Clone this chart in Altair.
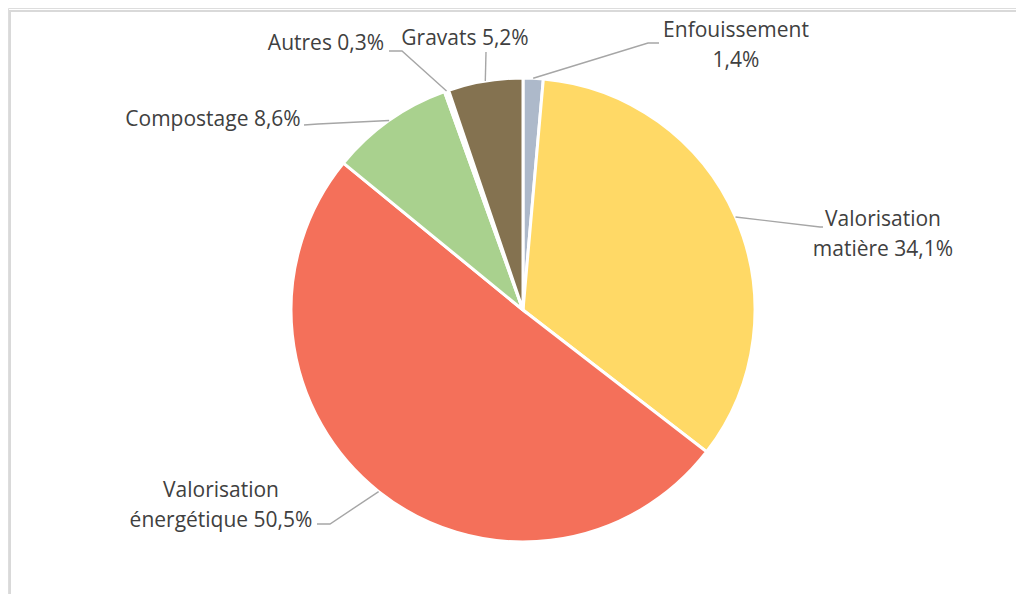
import altair as alt
import pandas as pd
import numpy as np

# ---- data ----
categories = ["Enfouissement", "Valorisation matière", "Valorisation énergétique",
              "Compostage", "Autres", "Gravats"]
values = [1.4, 34.1, 50.5, 8.6, 0.3, 5.2]
labels = ["Enfouissement\n1,4%", "Valorisation\nmatière 34,1%",
          "Valorisation\nénergétique 50,5%", "Compostage 8,6%",
          "Autres 0,3%", "Gravats 5,2%"]
colors = ["#ADB9CA", "#FFD966", "#F4705A", "#A9D18E", "#FFFFFF", "#847250"]

# ---- layout (page px; converted to view px by subtracting the 8px margin) ----
M = 8
CX, CY, R = 523 - M, 310 - M, 232
label_xy = {
    "Enfouissement": (736, 37),
    "Valorisation matière": (883, 226),
    "Valorisation énergétique": (221, 497),
    "Compostage": (213, 126),
    "Autres": (326, 50),
    "Gravats": (465, 45),
}
leader_tail = {
    "Enfouissement": [(648, 43), (659, 43)],
    "Valorisation matière": [(820, 227), (823, 227)],
    "Valorisation énergétique": [(330, 524), (317, 524)],
    "Compostage": [(318, 124), (304, 125)],
    "Autres": [(402, 51), (389, 51)],
    "Gravats": [(486, 52)],
}

slices = pd.DataFrame({"cat": categories, "value": values,
                       "idx": list(range(len(categories)))})

vals = np.array(values, dtype=float)
total = vals.sum()
mid = (np.cumsum(vals) - vals / 2) / total * 2 * np.pi
rows = []
for i, c in enumerate(categories):
    sx = CX + R * np.sin(mid[i])
    sy = CY - R * np.cos(mid[i])
    pts = [(sx, sy)] + [(px - M, py - M) for px, py in leader_tail[c]]
    for j, (px, py) in enumerate(pts):
        rows.append({"cat": c, "seq": j, "x": px, "y": py})
leaders = pd.DataFrame(rows)

texts = pd.DataFrame({
    "cat": categories,
    "label": labels,
    "x": [label_xy[c][0] - M for c in categories],
    "y": [label_xy[c][1] - M for c in categories],
})

W, H = 1008, 586

pie = alt.Chart(slices).mark_arc(radius=R, stroke="white", strokeWidth=3).encode(
    theta=alt.Theta("value:Q", stack=True),
    color=alt.Color("cat:N", scale=alt.Scale(domain=categories, range=colors), legend=None),
    order=alt.Order("idx:Q"),
    x=alt.value(CX),
    y=alt.value(CY),
)

lines = alt.Chart(leaders).mark_line(color="#A6A6A6", strokeWidth=1.4).encode(
    x=alt.X("x:Q", scale=None, axis=None),
    y=alt.Y("y:Q", scale=None, axis=None),
    detail="cat:N",
    order="seq:Q",
)

text = alt.Chart(texts).mark_text(
    font="Open Sans", fontSize=21, color="#404040", align="center",
    baseline="alphabetic", lineBreak="\n", lineHeight=30,
).encode(
    x=alt.X("x:Q", scale=None, axis=None),
    y=alt.Y("y:Q", scale=None, axis=None),
    text="label:N",
)

frame_df = pd.DataFrame({"k": [0]})
frame_top = alt.Chart(frame_df).mark_rule(color="#D9D9D9", strokeWidth=2).encode(
    x=alt.value(2), x2=alt.value(W), y=alt.value(3))
frame_left = alt.Chart(frame_df).mark_rule(color="#D9D9D9", strokeWidth=2).encode(
    x=alt.value(2), y=alt.value(2), y2=alt.value(H))

chart = alt.layer(frame_top, frame_left, pie, lines, text).properties(
    width=W, height=H, padding=0,
    autosize=alt.AutoSizeParams(type="none"),
).configure_view(stroke=None).configure(background="white")

chart.save("out.html", embed_options={"renderer": "svg", "actions": False})
